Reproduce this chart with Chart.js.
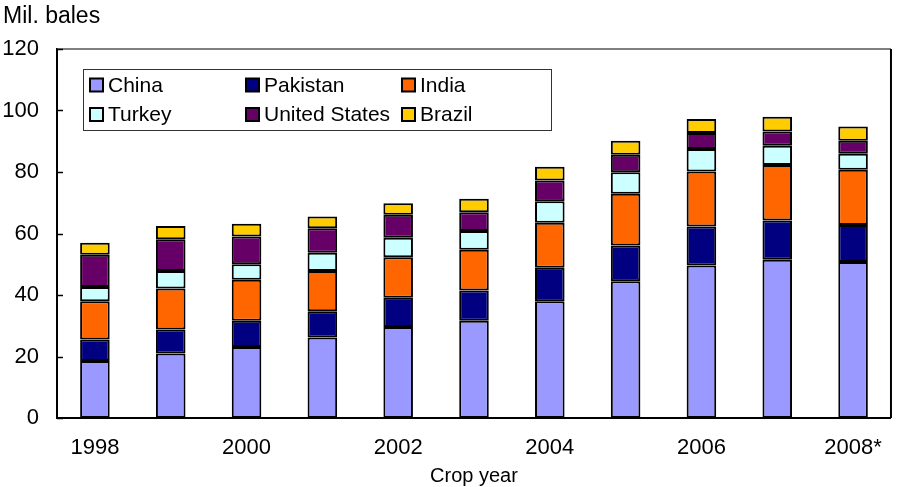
<!DOCTYPE html>
<html>
<head>
<meta charset="utf-8">
<script src="https://cdn.jsdelivr.net/npm/chart.js@4.4.1/dist/chart.umd.min.js"></script>
<style>
  html, body { margin: 0; padding: 0; background: #fff; }
  #wrap { width: 899px; height: 487px; }
</style>
</head>
<body>
<div id="wrap"><canvas id="cotton"></canvas></div>
<script>
const years = ['1998','1999','2000','2001','2002','2003','2004','2005','2006','2007','2008*'];

const china    = [18.5, 21.0, 23.1, 26.2, 29.6, 31.6, 38.0, 44.5, 49.6, 51.5, 50.7];
const pakistan = [7.0, 7.8, 8.5, 8.5, 9.5, 9.9, 10.9, 11.6, 12.7, 12.7, 12.1];
const india    = [12.5, 13.3, 13.4, 13.1, 13.2, 13.2, 14.6, 16.8, 17.9, 18.1, 17.9];
const turkey   = [4.6, 5.7, 5.0, 5.9, 6.3, 6.1, 7.0, 7.0, 7.3, 6.2, 5.2];
const usa      = [10.5, 10.3, 9.0, 8.0, 7.5, 6.1, 6.7, 5.7, 5.2, 4.7, 4.3];
const brazil   = [3.9, 4.3, 4.2, 3.8, 3.7, 4.4, 4.5, 4.6, 4.5, 4.8, 4.6];

const yTicks = [0, 20, 40, 60, 80, 100, 120];

const FONT = 'Arial, "Liberation Sans", sans-serif';

function series(label, data, color)
{
    return {
        label: label,
        data: data,
        backgroundColor: color,
        borderColor: '#000',
        borderWidth: 2,
        borderSkipped: false,
        barPercentage: 0.39,
        categoryPercentage: 1.0
    };
}

// plot frame, inward y ticks and the boxed legend
const frame = {
    id: 'frame',
    afterDraw(chart) {
        const ctx = chart.ctx;
        const a = chart.chartArea;
        const y = chart.scales.y;
        ctx.save();
        ctx.strokeStyle = '#555';
        ctx.lineWidth = 1.5;
        ctx.beginPath();
        ctx.moveTo(a.left, a.top);
        ctx.lineTo(a.right, a.top);
        ctx.stroke();
        ctx.strokeStyle = '#000';
        ctx.lineWidth = 2;
        ctx.beginPath();
        ctx.moveTo(a.right, a.top);
        ctx.lineTo(a.right, a.bottom);
        ctx.stroke();

        ctx.lineWidth = 1.5;
        yTicks.forEach(v => {
            const py = Math.round(y.getPixelForValue(v)) + 0.5;
            ctx.beginPath();
            ctx.moveTo(a.left, py);
            ctx.lineTo(a.left + 6, py);
            ctx.stroke();
        });

        // legend
        ctx.fillStyle = '#fff';
        ctx.fillRect(83.5, 69.5, 468, 61);
        ctx.strokeStyle = '#333';
        ctx.lineWidth = 1;
        ctx.strokeRect(83.5, 69.5, 468, 61);
        ctx.font = '21px ' + FONT;
        ctx.textBaseline = 'middle';
        chart.data.datasets.forEach((ds, i) => {
            const x = 90 + (i % 3) * 156;
            const cy = 85 + Math.floor(i / 3) * 29.5;
            ctx.fillStyle = ds.backgroundColor;
            ctx.fillRect(x, cy - 6.5, 13, 13);
            ctx.strokeStyle = '#000';
            ctx.lineWidth = 2;
            ctx.strokeRect(x, cy - 6.5, 13, 13);
            ctx.fillStyle = '#000';
            ctx.fillText(ds.label, x + 18, cy + 1);
        });
        ctx.restore();
    }
};

const chart = new Chart(document.getElementById('cotton'), {
    type: 'bar',
    data: {
        labels: years,
        datasets: [
            series('China', china, '#9999FF'),
            series('Pakistan', pakistan, '#000080'),
            series('India', india, '#FF6600'),
            series('Turkey', turkey, '#CCFFFF'),
            series('United States', usa, '#660066'),
            series('Brazil', brazil, '#FFCC00')
        ]
    },
    options: {
        responsive: true,
        maintainAspectRatio: false,
        animation: false,
        layout: { padding: { left: 3, right: 4, top: 0, bottom: 0 } },
        plugins: {
            legend: { display: false },
            tooltip: { enabled: false },
            title: {
                display: true,
                text: 'Mil. bales',
                align: 'start',
                color: '#000',
                font: { family: FONT, size: 23, weight: 'normal' },
                padding: { top: 3, bottom: 18.4 }
            }
        },
        scales: {
            x: {
                stacked: true,
                grid: { display: false, drawTicks: false },
                border: { display: true, color: '#000', width: 2 },
                ticks: {
                    autoSkip: false,
                    maxRotation: 0,
                    padding: 17,
                    color: '#000',
                    font: { family: FONT, size: 22 },
                    callback: function(value, index) {
                        return index % 2 == 0 ? years[index] : '';
                    }
                },
                title: {
                    display: true,
                    text: 'Crop year',
                    color: '#000',
                    font: { family: FONT, size: 20, lineHeight: 1.0 },
                    padding: { top: 0, bottom: 1 }
                },
                afterFit: function(scale) { scale.height = 69; }
            },
            y: {
                stacked: true,
                min: 0,
                max: 120,
                grid: { display: false, drawTicks: false },
                border: { display: true, color: '#000', width: 2 },
                ticks: {
                    stepSize: 20,
                    padding: 18,
                    color: '#000',
                    font: { family: FONT, size: 22 }
                },
                afterFit: function(scale) { scale.width = 54; }
            }
        }
    },
    plugins: [frame]
});
</script>
</body>
</html>
